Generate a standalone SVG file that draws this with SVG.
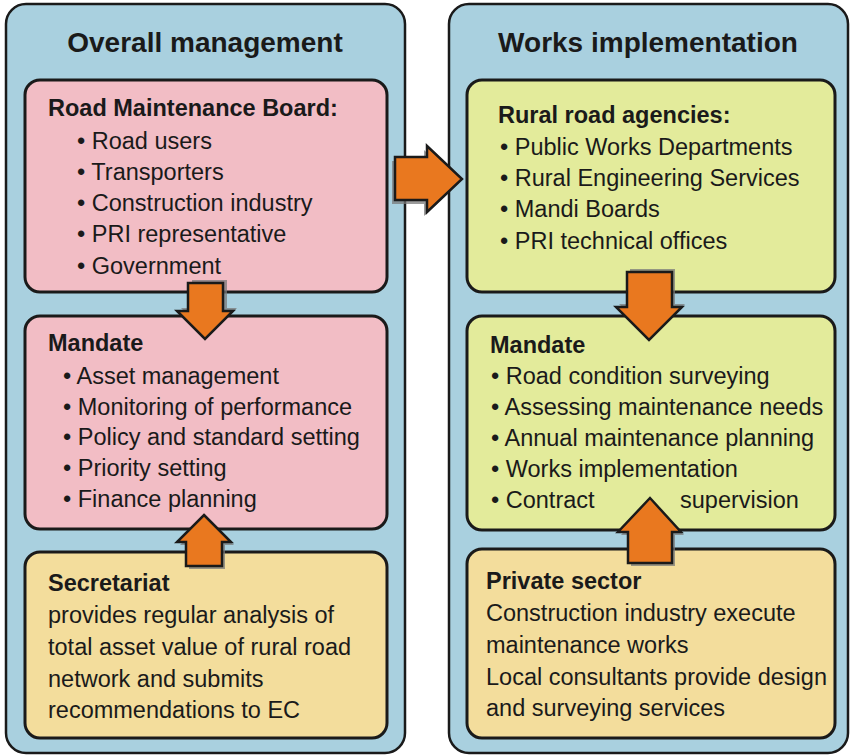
<svg xmlns="http://www.w3.org/2000/svg" width="850" height="755" viewBox="0 0 850 755">
<defs>
<style>
.panel{fill:#a9d0df;stroke:#1a1a1a;stroke-width:2.5}
.box{stroke:#1a1a1a;stroke-width:3}
.pink{fill:#f2bdc5}
.green{fill:#e3eb9b}
.tan{fill:#f3dd9c}
text{font-family:"Liberation Sans",Arial,sans-serif;fill:#1a1a1a}
.title{font-size:28px;font-weight:bold;text-anchor:middle}
.head{font-size:23.5px;font-weight:bold}
.body{font-size:23.5px}
.arrow{fill:#e9781f;stroke:#1a1a1a;stroke-width:2.5;stroke-linejoin:miter}
.shadow{fill:#7a7a7a;opacity:0.75}
</style>
</defs>
<rect width="850" height="755" fill="#ffffff"/>

<g id="panel-overall">
<rect class="panel" x="6" y="4" width="399" height="749" rx="20"/>
<text class="title" x="205" y="52">Overall management</text>
</g>
<g id="panel-works">
<rect class="panel" x="449" y="4" width="399" height="749" rx="20"/>
<text class="title" x="648" y="52">Works implementation</text>
</g>

<g id="road-maintenance-board">
<rect class="box pink" x="25" y="80" width="362" height="212" rx="15"/>
<text class="head" x="48" y="116">Road Maintenance Board:</text>
<text class="body" x="77" y="149">• Road users</text>
<text class="body" x="77" y="180">• Transporters</text>
<text class="body" x="77" y="211">• Construction industry</text>
<text class="body" x="77" y="242">• PRI representative</text>
<text class="body" x="77" y="274">• Government</text>
</g>

<g id="mandate-left">
<rect class="box pink" x="25" y="316" width="362" height="213" rx="15"/>
<text class="head" x="48" y="351">Mandate</text>
<text class="body" x="63" y="384">• Asset management</text>
<text class="body" x="63" y="415">• Monitoring of performance</text>
<text class="body" x="63" y="445">• Policy and standard setting</text>
<text class="body" x="63" y="476">• Priority setting</text>
<text class="body" x="63" y="507">• Finance planning</text>
</g>

<g id="secretariat">
<rect class="box tan" x="25" y="552" width="362" height="186" rx="15"/>
<text class="head" x="48" y="591">Secretariat</text>
<text class="body" x="48" y="623">provides regular analysis of</text>
<text class="body" x="48" y="655">total asset value of rural road</text>
<text class="body" x="48" y="687">network and submits</text>
<text class="body" x="48" y="718">recommendations to EC</text>
</g>

<g id="rural-road-agencies">
<rect class="box green" x="467" y="80" width="368" height="212" rx="15"/>
<text class="head" x="498" y="123">Rural road agencies:</text>
<text class="body" x="500" y="155">• Public Works Departments</text>
<text class="body" x="500" y="186">• Rural Engineering Services</text>
<text class="body" x="500" y="217">• Mandi Boards</text>
<text class="body" x="500" y="249">• PRI technical offices</text>
</g>

<g id="mandate-right">
<rect class="box green" x="467" y="316" width="368" height="214" rx="15"/>
<text class="head" x="490" y="353">Mandate</text>
<text class="body" x="491" y="384">• Road condition surveying</text>
<text class="body" x="491" y="415">• Assessing maintenance needs</text>
<text class="body" x="491" y="446">• Annual maintenance planning</text>
<text class="body" x="491" y="477">• Works implementation</text>
<text class="body" x="491" y="508">• Contract</text>
<text class="body" x="680" y="508">supervision</text>
</g>

<g id="private-sector">
<rect class="box tan" x="467" y="549" width="368" height="189" rx="15"/>
<text class="head" x="486" y="589">Private sector</text>
<text class="body" x="486" y="621">Construction industry execute</text>
<text class="body" x="486" y="653">maintenance works</text>
<text class="body" x="486" y="685">Local consultants provide design</text>
<text class="body" x="486" y="716">and surveying services</text>
</g>

<g id="connectors">
<g id="arrow-board-to-agencies">
<polygon class="shadow" transform="translate(-3,4)" points="395,157 427,157 427,146 462,179 427,212 427,200 395,200"/>
<polygon class="arrow" points="395,157 427,157 427,146 462,179 427,212 427,200 395,200"/>
</g>
<g id="arrow-board-to-mandate">
<polygon class="shadow" transform="translate(4,-3)" points="188,283 223,283 223,311 233,311 205,339 177,311 188,311"/>
<polygon class="arrow" points="188,283 223,283 223,311 233,311 205,339 177,311 188,311"/>
</g>
<g id="arrow-secretariat-to-mandate">
<polygon class="shadow" transform="translate(3,3)" points="204,515 231,542 222,542 222,566 186,566 186,542 177,542"/>
<polygon class="arrow" points="204,515 231,542 222,542 222,566 186,566 186,542 177,542"/>
</g>
<g id="arrow-agencies-to-mandate">
<polygon class="shadow" transform="translate(3,-3)" points="627,272 672,272 672,307 682,307 649,340 616,307 627,307"/>
<polygon class="arrow" points="627,272 672,272 672,307 682,307 649,340 616,307 627,307"/>
</g>
<g id="arrow-private-to-mandate">
<polygon class="shadow" transform="translate(3,3)" points="650,498 681,532 672,532 672,563 628,563 628,532 618,532"/>
<polygon class="arrow" points="650,498 681,532 672,532 672,563 628,563 628,532 618,532"/>
</g>
</g>
</svg>
